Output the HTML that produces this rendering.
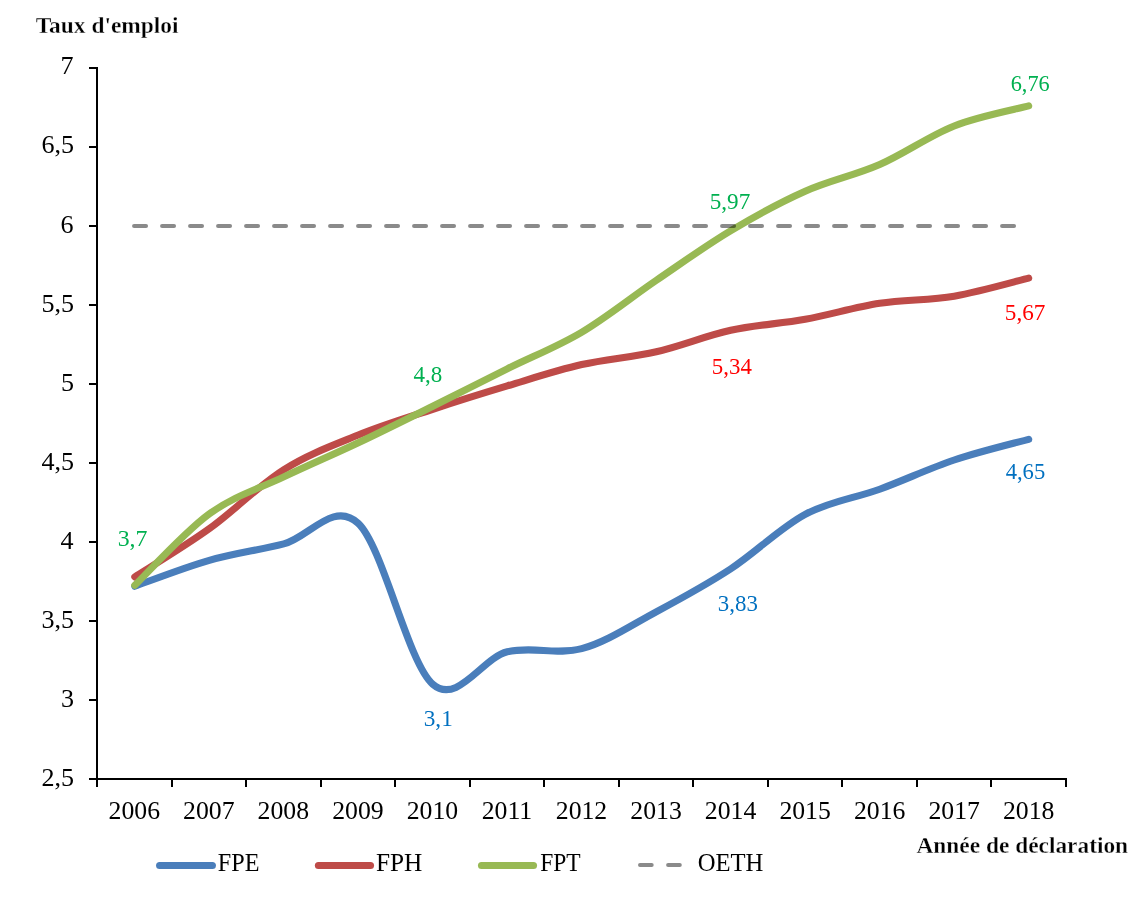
<!DOCTYPE html>
<html><head><meta charset="utf-8"><title>Taux d'emploi</title>
<style>
html,body{margin:0;padding:0;background:#fff;}
body{width:1136px;height:899px;overflow:hidden;}
svg{display:block;will-change:transform;}
text{font-family:"Liberation Serif",serif;}
</style></head><body>
<svg width="1136" height="899" viewBox="0 0 1136 899">
<rect width="1136" height="899" fill="#ffffff"/>
<g stroke="#000" stroke-width="2" fill="none" shape-rendering="crispEdges">
<line x1="97" y1="67" x2="97" y2="780"/>
<line x1="89" y1="779" x2="1067" y2="779"/>
<line x1="89" y1="68" x2="97" y2="68"/>
<line x1="89" y1="147" x2="97" y2="147"/>
<line x1="89" y1="226" x2="97" y2="226"/>
<line x1="89" y1="305" x2="97" y2="305"/>
<line x1="89" y1="384" x2="97" y2="384"/>
<line x1="89" y1="463" x2="97" y2="463"/>
<line x1="89" y1="542" x2="97" y2="542"/>
<line x1="89" y1="621" x2="97" y2="621"/>
<line x1="89" y1="700" x2="97" y2="700"/>
<line x1="97.00" y1="779" x2="97.00" y2="787"/>
<line x1="171.54" y1="779" x2="171.54" y2="787"/>
<line x1="246.08" y1="779" x2="246.08" y2="787"/>
<line x1="320.62" y1="779" x2="320.62" y2="787"/>
<line x1="395.15" y1="779" x2="395.15" y2="787"/>
<line x1="469.69" y1="779" x2="469.69" y2="787"/>
<line x1="544.23" y1="779" x2="544.23" y2="787"/>
<line x1="618.77" y1="779" x2="618.77" y2="787"/>
<line x1="693.31" y1="779" x2="693.31" y2="787"/>
<line x1="767.85" y1="779" x2="767.85" y2="787"/>
<line x1="842.38" y1="779" x2="842.38" y2="787"/>
<line x1="916.92" y1="779" x2="916.92" y2="787"/>
<line x1="991.46" y1="779" x2="991.46" y2="787"/>
<line x1="1066.00" y1="779" x2="1066.00" y2="787"/>
</g>
<text transform="translate(35.63 33.00) scale(1.0182 1)" font-size="23" font-weight="bold" stroke="#fff" stroke-width="0.3" fill="#000">Taux d&#39;emploi</text>
<text transform="translate(916.50 853.00) scale(1.0255 1)" font-size="22.8" font-weight="bold" stroke="#fff" stroke-width="0.3" fill="#000">Année de déclaration</text>
<text transform="translate(217.82 871.10) scale(0.9825 1)" font-size="24.6" fill="#000">FPE</text>
<text transform="translate(375.90 871.10) scale(1.0277 1)" font-size="24.6" fill="#000">FPH</text>
<text transform="translate(540.23 871.10) scale(0.9555 1)" font-size="24.6" fill="#000">FPT</text>
<text transform="translate(697.63 871.10) scale(1.0024 1)" font-size="24.6" fill="#000">OETH</text>
<text transform="translate(117.68 546.10) scale(1.0545 1)" font-size="22.6" fill="#00b050">3,7</text>
<text transform="translate(413.44 382.10) scale(1.0187 1)" font-size="22.6" fill="#00b050">4,8</text>
<text transform="translate(709.71 209.00) scale(1.0252 1)" font-size="22.6" fill="#00b050">5,97</text>
<text transform="translate(1010.70 91.10) scale(0.9873 1)" font-size="22.6" fill="#00b050">6,76</text>
<text transform="translate(711.83 374.00) scale(1.0121 1)" font-size="22.6" fill="#ff0000">5,34</text>
<text transform="translate(1004.81 320.10) scale(1.0252 1)" font-size="22.6" fill="#ff0000">5,67</text>
<text transform="translate(423.71 726.00) scale(1.0294 1)" font-size="22.6" fill="#0070c0">3,1</text>
<text transform="translate(717.83 611.00) scale(1.0136 1)" font-size="22.6" fill="#0070c0">3,83</text>
<text transform="translate(1005.65 479.20) scale(1.0002 1)" font-size="22.6" fill="#0070c0">4,65</text>
<text transform="translate(60.56 74.40) scale(1.0270 1)" font-size="25.4" fill="#000">7</text>
<text transform="translate(41.41 153.48) scale(1.0270 1)" font-size="25.4" fill="#000">6,5</text>
<text transform="translate(60.56 232.56) scale(1.0270 1)" font-size="25.4" fill="#000">6</text>
<text transform="translate(41.41 311.64) scale(1.0270 1)" font-size="25.4" fill="#000">5,5</text>
<text transform="translate(60.97 390.72) scale(1.0270 1)" font-size="25.4" fill="#000">5</text>
<text transform="translate(41.41 469.80) scale(1.0270 1)" font-size="25.4" fill="#000">4,5</text>
<text transform="translate(60.56 548.88) scale(1.0270 1)" font-size="25.4" fill="#000">4</text>
<text transform="translate(41.41 627.96) scale(1.0270 1)" font-size="25.4" fill="#000">3,5</text>
<text transform="translate(60.97 707.04) scale(1.0270 1)" font-size="25.4" fill="#000">3</text>
<text transform="translate(41.41 786.12) scale(1.0270 1)" font-size="25.4" fill="#000">2,5</text>
<text transform="translate(134.27 819.1) scale(1.0100 1)" font-size="25.5" text-anchor="middle" fill="#000">2006</text>
<text transform="translate(208.81 819.1) scale(1.0100 1)" font-size="25.5" text-anchor="middle" fill="#000">2007</text>
<text transform="translate(283.35 819.1) scale(1.0100 1)" font-size="25.5" text-anchor="middle" fill="#000">2008</text>
<text transform="translate(357.88 819.1) scale(1.0100 1)" font-size="25.5" text-anchor="middle" fill="#000">2009</text>
<text transform="translate(432.42 819.1) scale(1.0100 1)" font-size="25.5" text-anchor="middle" fill="#000">2010</text>
<text transform="translate(506.96 819.1) scale(1.0100 1)" font-size="25.5" text-anchor="middle" fill="#000">2011</text>
<text transform="translate(581.50 819.1) scale(1.0100 1)" font-size="25.5" text-anchor="middle" fill="#000">2012</text>
<text transform="translate(656.04 819.1) scale(1.0100 1)" font-size="25.5" text-anchor="middle" fill="#000">2013</text>
<text transform="translate(730.58 819.1) scale(1.0100 1)" font-size="25.5" text-anchor="middle" fill="#000">2014</text>
<text transform="translate(805.12 819.1) scale(1.0100 1)" font-size="25.5" text-anchor="middle" fill="#000">2015</text>
<text transform="translate(879.65 819.1) scale(1.0100 1)" font-size="25.5" text-anchor="middle" fill="#000">2016</text>
<text transform="translate(954.19 819.1) scale(1.0100 1)" font-size="25.5" text-anchor="middle" fill="#000">2017</text>
<text transform="translate(1028.73 819.1) scale(1.0100 1)" font-size="25.5" text-anchor="middle" fill="#000">2018</text>
<path d="M134.80 586.24 C147.22 581.92 184.46 567.39 209.29 560.33 C234.12 553.27 258.95 550.06 283.78 543.90 C308.61 537.73 333.44 499.97 358.27 523.36 C383.10 546.74 407.93 662.79 432.76 684.20 C457.59 705.61 482.42 657.73 507.25 651.81 C532.08 645.88 556.91 655.31 581.74 648.65 C606.57 641.99 631.40 625.13 656.23 611.84 C681.06 598.54 705.89 585.11 730.72 568.86 C755.55 552.61 780.38 527.62 805.21 514.35 C830.04 501.08 854.87 498.29 879.70 489.23 C904.53 480.17 929.36 468.32 954.19 460.00 C979.02 451.68 1016.26 442.75 1028.68 439.30" fill="none" stroke="#4a7ebb" stroke-width="7.1" stroke-linecap="round" stroke-linejoin="round"/>
<path d="M134.80 576.92 C147.22 568.89 184.46 546.61 209.29 528.73 C234.12 510.85 258.95 485.25 283.78 469.64 C308.61 454.02 333.44 445.09 358.27 435.03 C383.10 424.97 407.93 417.47 432.76 409.28 C457.59 401.09 482.42 393.35 507.25 385.90 C532.08 378.44 556.91 370.25 581.74 364.57 C606.57 358.88 631.40 357.48 656.23 351.77 C681.06 346.05 705.89 335.70 730.72 330.28 C755.55 324.86 780.38 323.72 805.21 319.22 C830.04 314.72 854.87 307.11 879.70 303.26 C904.53 299.42 929.36 300.34 954.19 296.15 C979.02 291.96 1016.26 281.14 1028.68 278.14" fill="none" stroke="#be4b48" stroke-width="7.1" stroke-linecap="round" stroke-linejoin="round"/>
<path d="M134.80 585.29 C147.22 573.39 184.46 531.94 209.29 513.88 C234.12 495.81 258.95 488.75 283.78 476.90 C308.61 465.05 333.44 454.55 358.27 442.78 C383.10 431.00 407.93 418.60 432.76 406.28 C457.59 393.95 482.42 381.18 507.25 368.83 C532.08 356.48 556.91 346.92 581.74 332.18 C606.57 317.43 631.40 297.26 656.23 280.35 C681.06 263.45 705.89 245.59 730.72 230.74 C755.55 215.89 780.38 202.27 805.21 191.24 C830.04 180.21 854.87 175.41 879.70 164.54 C904.53 153.66 929.36 135.76 954.19 125.99 C979.02 116.22 1016.26 109.26 1028.68 105.92" fill="none" stroke="#98b954" stroke-width="7.1" stroke-linecap="round" stroke-linejoin="round"/>
<line x1="134.05" y1="226" x2="1028.70" y2="226" stroke="#000" stroke-opacity="0.46" stroke-width="4" stroke-linecap="round" stroke-dasharray="12 16"/>
<line x1="159.6" y1="865.5" x2="212.4" y2="865.5" stroke="#4a7ebb" stroke-width="7.1" stroke-linecap="round"/>
<line x1="318.4" y1="865.5" x2="370.5" y2="865.5" stroke="#be4b48" stroke-width="7.1" stroke-linecap="round"/>
<line x1="481.5" y1="865.5" x2="533.5" y2="865.5" stroke="#98b954" stroke-width="7.1" stroke-linecap="round"/>
<line x1="640" y1="865" x2="680.5" y2="865" stroke="#000" stroke-opacity="0.46" stroke-width="4" stroke-linecap="round" stroke-dasharray="11.7 16.4"/>
</svg>
</body></html>
